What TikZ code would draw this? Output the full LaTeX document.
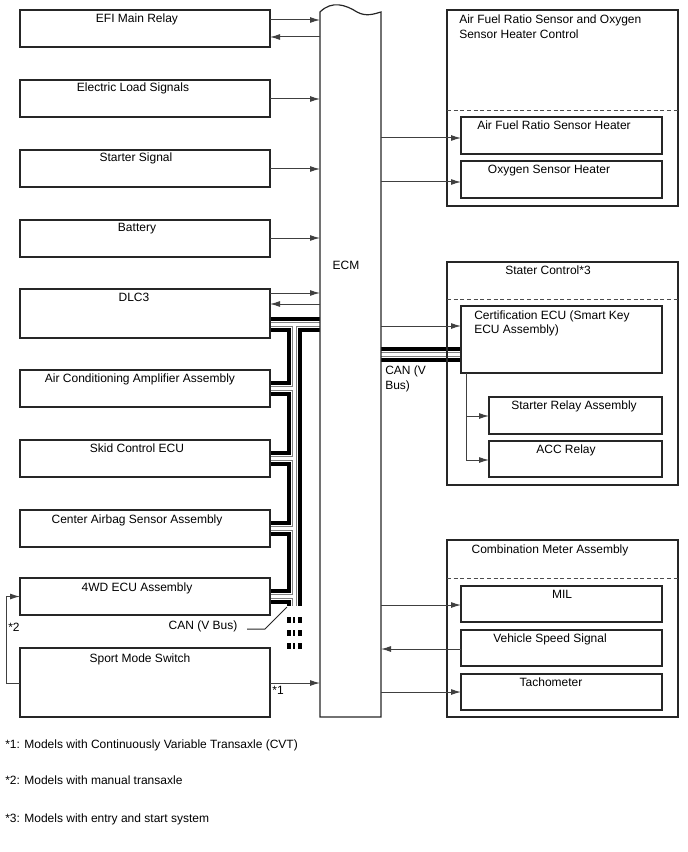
\documentclass[tikz,border=0pt]{standalone}
\usepackage{fontspec}
\setmainfont{Liberation Sans}
\usetikzlibrary{arrows.meta,fit}
\begin{document}
\begin{tikzpicture}[x=0.75pt,y=-0.75pt,
  boxst/.style={draw=black!85, line width=0.9pt},
  holder/.style={inner sep=0pt, outer sep=0pt},
  lbl/.style={anchor=base, inner sep=0pt, font=\fontsize{9}{11.25}\selectfont, text=black},
  lblw/.style={anchor=base west, inner sep=0pt, font=\fontsize{9}{11.25}\selectfont, text=black},
  arr/.style={draw=black!75, line width=0.75pt, -{Latex[length=7.5pt,width=4.5pt]}},
  ln/.style={draw=black!85, line width=0.75pt},
  dsh/.style={draw=black!70, line width=0.75pt, dash pattern=on 3pt off 2pt},
  busdash/.style={line width=#1, black, dash pattern=on 4.5pt off 5.25pt}
]
\useasboundingbox (0,0) rectangle (688,852);
\newcommand\mkbox[5]{\node[holder, fit={(#2,#3) (#4,#5)}] (#1) {};}
% left boxes
\mkbox{efi}{20}{10}{270}{47}
\mkbox{eload}{20}{80}{270}{117}
\mkbox{starter}{20}{150}{270}{187}
\mkbox{batt}{20}{220}{270}{257}
\mkbox{dlc}{20}{289}{270}{338}
\mkbox{ac}{20}{370}{270}{407}
\mkbox{skid}{20}{440}{270}{477}
\mkbox{airbag}{20}{510}{270}{547}
\mkbox{fwd}{20}{578}{270}{615}
\mkbox{sport}{20}{648}{270}{717}
% ECM
\mkbox{ecm}{320}{12}{381}{717}
% right groups
\mkbox{afr}{447}{10}{678}{206}
\mkbox{afrh}{461}{117}{662}{154}
\mkbox{otwo}{461}{161}{662}{198}
\mkbox{stc}{447}{262}{678}{485}
\mkbox{cert}{461}{306}{662}{373}
\mkbox{srel}{489}{397}{662}{434}
\mkbox{acc}{489}{441}{662}{477}
\mkbox{comb}{447}{540}{678}{717}
\mkbox{mil}{461}{586}{662}{622}
\mkbox{vss}{461}{630}{662}{666}
\mkbox{tach}{461}{674}{662}{710}

% CAN bus
\coordinate (j0) at (294,324);
\coordinate (jend) at (294,606);
\newcommand\canbus[1]{%
  \draw[#1] (dlc.east |- j0) -- (ecm.west |- j0);
  \draw[#1] (j0) -- (jend);
  \foreach \n in {ac,skid,airbag,fwd} {\draw[#1] (\n.east) -- (\n.east -| j0);}
  \draw[#1] (ecm.east |- 0,354) -- (cert.west |- 0,354);
}
\canbus{line width=11.25pt, black}
\canbus{line width=5.25pt, white}
\canbus{line width=3.75pt, black!50}
\canbus{line width=2.25pt, white}
\coordinate (dA) at (288.5,617); \coordinate (dA2) at (288.5,650);
\coordinate (dB) at (294,617);   \coordinate (dB2) at (294,650);
\coordinate (dC) at (299.5,617); \coordinate (dC2) at (299.5,650);
\draw[busdash=3pt] (dA) -- (dA2);
\draw[busdash=2pt] (dB) -- (dB2);
\draw[busdash=3pt] (dC) -- (dC2);

% boxes drawn
\foreach \n in {efi,eload,starter,batt,dlc,ac,skid,airbag,fwd,sport,afr,afrh,otwo,stc,cert,srel,acc,comb,mil,vss,tach}
  {\draw[boxst] (\n.north west) rectangle (\n.south east);}
\draw[boxst] (ecm.south west) -- (ecm.north west)
  .. controls (332,0) and (346,5) .. (357,12)
  .. controls (366,17) and (374,14) .. (ecm.north east) -- (ecm.south east) -- cycle;
\draw[dsh] (afr.west |- 0,111) -- (afr.east |- 0,111);
\draw[dsh] (stc.west |- 0,299) -- (stc.east |- 0,299);
\draw[dsh] (comb.west |- 0,578) -- (comb.east |- 0,578);

% texts
\node[lbl] (t1) at (137,23) {EFI Main Relay};
\node[lbl] (t2) at (133,92) {Electric Load Signals};
\node[lbl] (t3) at (136,162) {Starter Signal};
\node[lbl] (t4) at (137,232) {Battery};
\node[lbl] (t5) at (134,301) {DLC3};
\node[lbl] (t6) at (140,382) {Air Conditioning Amplifier Assembly};
\node[lbl] (t7) at (137,452) {Skid Control ECU};
\node[lbl] (t8) at (137,523) {Center Airbag Sensor Assembly};
\node[lbl] (t9) at (137,591) {4WD ECU Assembly};
\node[lbl] (t10) at (140,662) {Sport Mode Switch};
\node[lbl] (t11) at (346,269) {ECM};
\node[lblw] (t12) at (459,24) {Air Fuel Ratio Sensor and Oxygen};
\node[lblw] (t13) at (459,39) {Sensor Heater Control};
\node[lbl] (t14) at (554,130) {Air Fuel Ratio Sensor Heater};
\node[lbl] (t15) at (549,174) {Oxygen Sensor Heater};
\node[lbl] (t16) at (548,274) {Stater Control*3};
\node[lblw] (t17) at (474,319) {Certification ECU (Smart Key};
\node[lblw] (t18) at (474,333) {ECU Assembly)};
\node[lbl] (t19) at (574,409) {Starter Relay Assembly};
\node[lbl] (t20) at (566,453) {ACC Relay};
\node[lbl] (t21) at (550,553) {Combination Meter Assembly};
\node[lbl] (t22) at (562,598) {MIL};
\node[lbl] (t23) at (550,642) {Vehicle Speed Signal};
\node[lbl] (t24) at (551,686) {Tachometer};
\node[lblw] (t25) at (385,374) {CAN (V};
\node[lblw] (t26) at (385,389) {Bus)};
\node[lbl] (t27) at (203,629) {CAN (V Bus)};
\node[lbl] (t28) at (278,694) {*1};
\node[lbl] (t29) at (14,631) {*2};
\node[lblw] (f1) at (5,748) {*1: Models with Continuously Variable Transaxle (CVT)};
\node[lblw] (f2) at (5,784) {*2: Models with manual transaxle};
\node[lblw] (f3) at (5,822) {*3: Models with entry and start system};

% leader for CAN (V Bus)
\coordinate (la) at (247,629); \coordinate (lb) at (265,629); \coordinate (lc) at (287,607);
\draw[ln] (la) -- (lb) -- (lc);

% arrows left
\draw[arr] (efi.east |- 0,20) -- (ecm.west |- 0,20);
\draw[arr] (ecm.west |- 0,37) -- (efi.east |- 0,37);
\draw[arr] (eload.east |- 0,99) -- (ecm.west |- 0,99);
\draw[arr] (starter.east |- 0,169) -- (ecm.west |- 0,169);
\draw[arr] (batt.east |- 0,238) -- (ecm.west |- 0,238);
\draw[arr] (dlc.east |- 0,293) -- (ecm.west |- 0,293);
\draw[arr] (ecm.west |- 0,304) -- (dlc.east |- 0,304);
\draw[arr] (sport.east |- 0,683) -- (ecm.west |- 0,683);
\draw[arr] (sport.west |- 0,683) -- ++(-14,0) |- (fwd.west);
% arrows right
\draw[arr] (ecm.east |- 0,138) -- (afrh.west |- 0,138);
\draw[arr] (ecm.east |- 0,182) -- (otwo.west |- 0,182);
\draw[arr] (ecm.east |- 0,326) -- (cert.west |- 0,326);
\draw[arr] ([xshift=3.75pt]cert.south west) |- (acc.west |- 0,460);
\draw[arr] ([xshift=3.75pt]cert.south west |- 0,416) -- (srel.west |- 0,416);
\draw[arr] (ecm.east |- 0,605) -- (mil.west |- 0,605);
\draw[arr] (vss.west |- 0,649) -- (ecm.east |- 0,649);
\draw[arr] (ecm.east |- 0,692) -- (tach.west |- 0,692);
\end{tikzpicture}
\end{document}
